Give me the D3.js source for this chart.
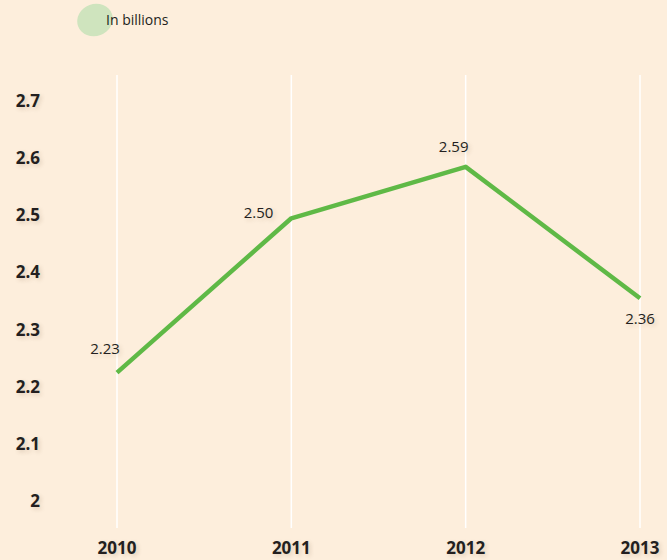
<!DOCTYPE html>
<html>
<head>
<meta charset="utf-8">
<script src="https://cdn.jsdelivr.net/npm/d3@7"></script>
<style>
  html, body { margin: 0; padding: 0; background: #fdeedc; }
  svg text { font-family: "Open Sans", "Lato", sans-serif; fill: #231f20; }
  .shadow { text-shadow: 2px 2px 4px rgba(90, 60, 30, 0.18); }
</style>
</head>
<body>
<svg id="chart"></svg>
<script>
// Yearly values, in billions
const years = ["2010", "2011", "2012", "2013"];
const values = [2.23, 2.50, 2.59, 2.36];
const yTicks = [2, 2.1, 2.2, 2.3, 2.4, 2.5, 2.6, 2.7];

(function () {
  const W = 667, H = 560;
  const GREEN = "#5fb946";

  const svg = d3.select("#chart").attr("width", W).attr("height", H);
  svg.append("rect").attr("width", W).attr("height", H).attr("fill", "#fdeedc");

  const x = d3.scalePoint().domain(years).range([117, 640]);
  const y = d3.scaleLinear().domain([2, 2.7]).range([504, 104]);

  // Legend blob
  svg.append("ellipse")
    .attr("cx", 95).attr("cy", 20).attr("rx", 18).attr("ry", 16)
    .attr("transform", "rotate(-20 95 20)")
    .attr("fill", "#cfe4be");
  svg.append("text")
    .attr("x", 106).attr("y", 20).attr("dy", "0.35em")
    .attr("font-size", 14)
    .text("In billions");

  // Vertical gridlines
  svg.append("g").selectAll("line").data(years).enter()
    .append("line")
    .attr("x1", d => x(d)).attr("x2", d => x(d))
    .attr("y1", 75).attr("y2", 528)
    .attr("stroke", "#ffffff").attr("stroke-width", 1.5);

  // Y axis labels
  svg.append("g").selectAll("text").data(yTicks).enter()
    .append("text")
    .attr("class", "shadow")
    .attr("x", 40).attr("y", d => y(d) - 3).attr("dy", "0.35em")
    .attr("text-anchor", "end")
    .attr("font-size", 17).attr("font-weight", 700)
    .text(d => d3.format("~g")(d));

  // X axis labels
  svg.append("g").selectAll("text").data(years).enter()
    .append("text")
    .attr("class", "shadow")
    .attr("x", d => x(d)).attr("y", 548).attr("dy", "0.35em")
    .attr("text-anchor", "middle")
    .attr("font-size", 17).attr("font-weight", 700)
    .text(d => d);

  // Line
  const pts = years.map((yr, i) => ({ yr, v: values[i] }));
  svg.append("path")
    .datum(pts)
    .attr("fill", "none")
    .attr("stroke", GREEN)
    .attr("stroke-width", 4.5)
    .attr("stroke-linejoin", "round")
    .attr("d", d3.line().x(d => x(d.yr)).y(d => y(d.v)));

  // Value labels
  const offsets = [[-12, -24], [-18, -6], [-12, -20], [0, 20]];
  const anchors = ["middle", "end", "middle", "middle"];
  svg.append("g").selectAll("text").data(pts).enter()
    .append("text")
    .attr("class", "shadow")
    .attr("x", (d, i) => x(d.yr) + offsets[i][0])
    .attr("y", (d, i) => y(d.v) + offsets[i][1])
    .attr("dy", "0.35em")
    .attr("text-anchor", (d, i) => anchors[i])
    .attr("font-size", 15)
    .text(d => d.v.toFixed(2));
})();
</script>
</body>
</html>
